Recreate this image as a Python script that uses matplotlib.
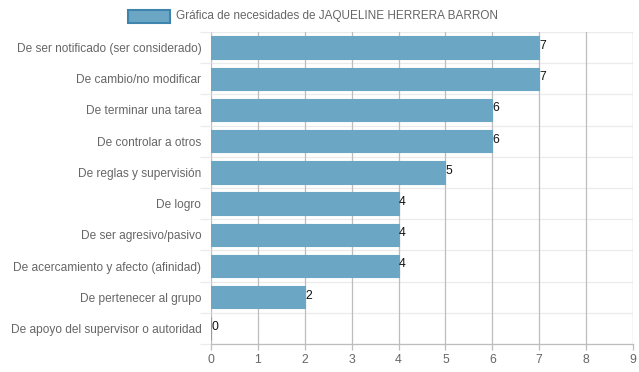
import matplotlib
matplotlib.use("Agg")
import matplotlib.pyplot as plt
from matplotlib.patches import Rectangle

categories = [
    "De ser notificado (ser considerado)",
    "De cambio/no modificar",
    "De terminar una tarea",
    "De controlar a otros",
    "De reglas y supervisión",
    "De logro",
    "De ser agresivo/pasivo",
    "De acercamiento y afecto (afinidad)",
    "De pertenecer al grupo",
    "De apoyo del supervisor o autoridad",
]
values = [7, 7, 6, 6, 5, 4, 4, 4, 2, 0]
x_ticks = list(range(0, 10))
legend_label = "Gráfica de necesidades de JAQUELINE HERRERA BARRON"

plt.rcParams['font.family'] = ['Liberation Sans', 'DejaVu Sans']
W, H = 639, 372
fig = plt.figure(figsize=(W / 100, H / 100), dpi=100)
ax = fig.add_axes([211 / W, 1 - 344 / H, (633 - 211) / W, (344 - 32) / H])

bar_color = '#6ba7c5'
n = len(categories)
ypos = list(range(n))
ax.barh(ypos, values, height=0.72, color=bar_color, edgecolor=bar_color, linewidth=0.8, zorder=3)
for y, v in zip(ypos, values):
    ax.text(v + 0.01, y - 0.05, str(v), ha='left', va='center', fontsize=8.8, color='#111111', zorder=4)

ax.set_xlim(0, 9)
ax.set_ylim(n - 0.5, -0.5)
ax.set_xticks(x_ticks)
ax.set_xticklabels([str(t) for t in x_ticks], fontsize=8.8, color='#666666')
ax.set_yticks(ypos)
ax.set_yticklabels(categories, fontsize=8.6, color='#666666')

# grid lines
for t in x_ticks:
    ax.axvline(t, color='#bdbdbd', linewidth=0.9, zorder=1)
for b in [i - 0.5 for i in range(n + 1)]:
    ax.axhline(b, color='#ebebeb', linewidth=0.9, zorder=0)
ax.set_yticks([i - 0.5 for i in range(n + 1)], minor=True)
ax.tick_params(axis='y', which='minor', length=8, color='#ebebeb', width=0.9)
ax.tick_params(axis='y', which='major', length=0, pad=7)
ax.tick_params(axis='x', length=4, color='#bdbdbd', width=0.9, pad=3)
for s in ['top', 'right', 'left']:
    ax.spines[s].set_visible(False)
ax.spines['bottom'].set_color('#bdbdbd')
ax.spines['bottom'].set_linewidth(0.9)

# legend
fig.patches.append(Rectangle((128 / W, 1 - 23 / H), 42 / W, 13 / H, transform=fig.transFigure,
                             facecolor=bar_color, edgecolor='#3f84ad', linewidth=1.5))
fig.text(176 / W, 1 - 16 / H, legend_label, ha='left', va='center', fontsize=8.5, color='#666666')

fig.savefig('out.png', dpi=100)
